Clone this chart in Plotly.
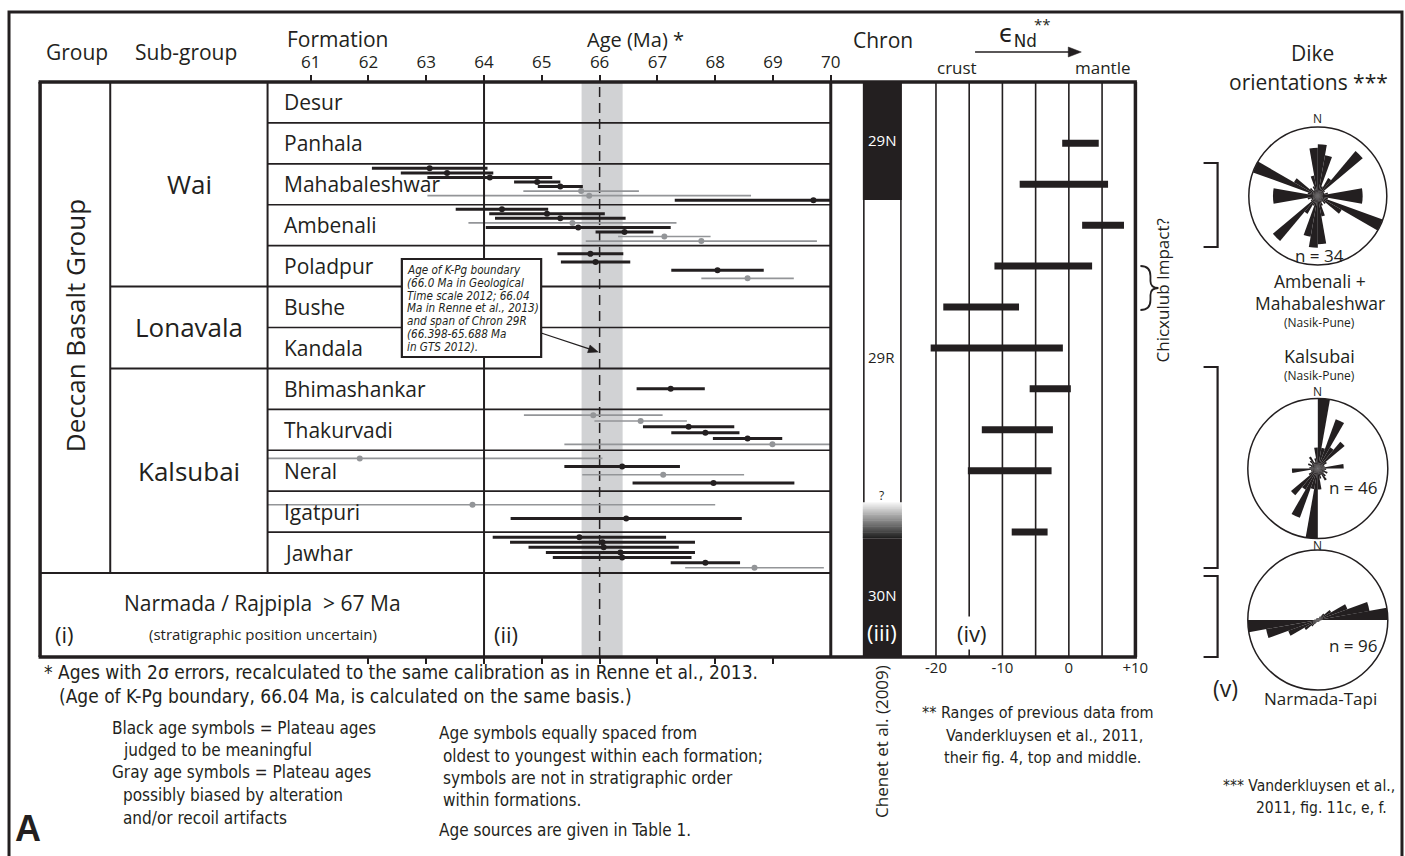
import plotly.graph_objects as go

W, H = 1405, 856          # design grid (pixels of the target picture)
FIG_W = 1421              # page width actually captured by the viewer
BLACK = "#231f20"
GRAY = "#939598"
FONT = "Open Sans"
NARROW = "Liberation Sans Narrow, DejaVu Sans Condensed, Open Sans"

# ---------------- data ----------------
FORMATIONS = ["Desur", "Panhala", "Mahabaleshwar", "Ambenali", "Poladpur", "Bushe", "Kandala",
              "Bhimashankar", "Thakurvadi", "Neral", "Igatpuri", "Jawhar"]
SUBGROUPS = ["Wai", "Lonavala", "Kalsubai"]
SUBGROUP_FIRST = [0, 5, 7]
GROUP = "Deccan Basalt Group"

AGE_TICKS_TOP = [61, 62, 63, 64, 65, 66, 67, 68, 69, 70]
AGE_TICKS_BOTTOM = [62, 63, 64, 65, 66, 67, 68, 69]
KPG_AGE = 66.0
CHRON29R = [65.688, 66.398]

# ages (Ma), 2-sigma errors, quality (b = black/meaningful, g = gray/possibly biased)
MAHA_AGE = [63.06, 63.36, 64.10, 64.92, 65.32, 65.68, 65.82, 69.70]
MAHA_ERR = [1.00, 0.80, 1.08, 0.40, 0.39, 1.00, 2.80, 2.40]
MAHA_Q = "bbbbbggb"
AMBE_AGE = [64.31, 65.09, 65.32, 65.53, 65.63, 66.43, 67.12, 67.76]
AMBE_ERR = [0.80, 1.00, 1.13, 1.80, 1.60, 0.50, 0.80, 2.00]
AMBE_Q = "bbbgbbgg"
POLA_AGE = [65.84, 65.93, 68.04, 68.56]
POLA_ERR = [0.57, 0.60, 0.80, 0.80]
POLA_Q = "bbbg"
BHIM_AGE = [67.23]
BHIM_ERR = [0.59]
BHIM_Q = "b"
THAK_AGE = [65.89, 66.71, 67.54, 67.83, 68.56, 68.99]
THAK_ERR = [1.20, 0.80, 0.79, 0.59, 0.60, 3.60]
THAK_Q = "ggbbbg"
NERA_AGE = [61.85, 66.39, 67.10, 67.97]
NERA_ERR = [4.20, 1.00, 1.40, 1.40]
NERA_Q = "gbgb"
IGAT_AGE = [63.80, 66.46]
IGAT_ERR = [4.20, 2.00]
IGAT_Q = "gb"
JAWH_AGE = [65.65, 66.05, 66.07, 66.36, 66.39, 67.83, 68.68]
JAWH_ERR = [1.50, 1.60, 1.30, 1.29, 1.20, 0.60, 1.20]
JAWH_Q = "bbbbbbg"

# eNd ranges
END_FORM = ["Panhala", "Mahabaleshwar", "Ambenali", "Poladpur", "Bushe", "Kandala",
            "Bhimashankar", "Thakurvadi", "Neral", "Igatpuri/Jawhar"]
END_LO = [-1.0, -7.4, 2.0, -11.2, -18.9, -20.8, -5.9, -13.1, -15.2, -8.6]
END_HI = [4.5, 5.9, 8.3, 3.5, -7.5, -0.9, 0.3, -2.4, -2.6, -3.2]
END_GRID = [-20, -15, -10, -5, 0, 5]
END_TICKS = [-20, -10, 0, 10]
END_TICKTEXT = ["-20", "-10", "0", "+10"]

# chron column (in formation-row units from top)
CHRON_NAMES = ["29N", "29R", "30N"]
CHRON_EDGES = [0.0, 2.885, 10.27, 11.15, 14.055]

# rose diagrams: strike bins (deg) and relative petal length
ROSE_BINS = [5, 15, 25, 35, 45, 55, 65, 75, 85, 95, 105, 115, 125, 135, 145, 155, 165, 175]
ROSE_AM = [0.75, 0.60, 0.15, 0.30, 0.85, 0.12, 0.10, 0.15, 0.65, 0.65, 0.15, 1.00, 0.40, 0.15, 0.10, 0.15, 0.30, 0.70]
ROSE_KA = [1.00, 0.30, 0.75, 0.35, 0.50, 0.15, 0.10, 0.10, 0.37, 0.12, 0.10, 0.15, 0.10, 0.15, 0.20, 0.10, 0.15, 0.30]
ROSE_NT = [0.03, 0.03, 0.03, 0.06, 0.12, 0.22, 0.45, 0.75, 1.00, 0.05, 0.03, 0.03, 0.03, 0.03, 0.03, 0.03, 0.03, 0.03]
ROSE_N = [34, 46, 96]

AGES = {
    "Mahabaleshwar": (MAHA_AGE, MAHA_ERR, MAHA_Q),
    "Ambenali": (AMBE_AGE, AMBE_ERR, AMBE_Q),
    "Poladpur": (POLA_AGE, POLA_ERR, POLA_Q),
    "Bhimashankar": (BHIM_AGE, BHIM_ERR, BHIM_Q),
    "Thakurvadi": (THAK_AGE, THAK_ERR, THAK_Q),
    "Neral": (NERA_AGE, NERA_ERR, NERA_Q),
    "Igatpuri": (IGAT_AGE, IGAT_ERR, IGAT_Q),
    "Jawhar": (JAWH_AGE, JAWH_ERR, JAWH_Q),
}

# ---------------- layout helpers (design pixel -> paper fraction) ----------------
def px(x):
    return x / W


def py(y):
    return 1 - y / H


TOP, BOT, ROWBOT = 82, 657, 573
NROWS = 14.055
ROWH = (ROWBOT - TOP) / 12

fig = go.Figure()
shapes = []
ann = []


def line(x0, y0, x1, y1, w=1.5, color=BLACK, layer="above"):
    shapes.append(dict(type="line", xref="paper", yref="paper", x0=px(x0), y0=py(y0), x1=px(x1), y1=py(y1),
                       line=dict(color=color, width=w), layer=layer))


def arrow(x0, y0, x1, y1, w=1.5, head=11, half=4.5):
    dx, dy = x1 - x0, y1 - y0
    L = (dx * dx + dy * dy) ** 0.5
    ux, uy = dx / L, dy / L
    bx, by = x1 - head * ux, y1 - head * uy
    line(x0, y0, bx + 2 * ux, by + 2 * uy, w=w)
    p1 = (bx - half * uy, by + half * ux)
    p2 = (bx + half * uy, by - half * ux)
    shapes.append(dict(type="path", xref="paper", yref="paper",
                       path=f"M {px(x1)},{py(y1)} L {px(p1[0])},{py(p1[1])} L {px(p2[0])},{py(p2[1])} Z",
                       fillcolor=BLACK, line=dict(color=BLACK, width=0.5)))


def txt(x, y, s, size, anchor="center", color=BLACK, family=FONT, angle=0, **kw):
    ann.append(dict(x=px(x), y=py(y), xref="paper", yref="paper", text=s, showarrow=False,
                    font=dict(size=size, color=color, family=family), xanchor=anchor,
                    yanchor="middle", textangle=angle, **kw))


# ---------------- age error bars ----------------
for qual, col, thick in (("g", GRAY, 1.6), ("b", BLACK, 3)):
    xs, ys, es = [], [], []
    for f, (ages, errs, qs) in AGES.items():
        i = FORMATIONS.index(f)
        n = len(ages)
        for k, (a, e, q) in enumerate(zip(ages, errs, qs)):
            if q == qual:
                xs.append(a)
                ys.append(i + (k + 1) / (n + 1))
                es.append(e)
    fig.add_trace(go.Scatter(x=xs, y=ys, mode="markers", xaxis="x", yaxis="y",
                             marker=dict(size=6, color=col),
                             error_x=dict(type="data", array=es, symmetric=True, width=0,
                                          thickness=thick, color=col),
                             showlegend=False, hoverinfo="skip"))
fig.add_trace(go.Scatter(x=[KPG_AGE], y=[0], xaxis="x2", yaxis="y", mode="markers",
                         marker=dict(opacity=0), showlegend=False, hoverinfo="skip"))

# ---------------- eNd bars ----------------
ex, ey = [], []
for name, lo, hi in zip(END_FORM, END_LO, END_HI):
    if "/" in name:
        yy = FORMATIONS.index(name.split("/")[1])
    else:
        yy = FORMATIONS.index(name) + 0.5
    ex += [lo, hi, None]
    ey += [yy, yy, None]
fig.add_trace(go.Scatter(x=ex, y=ey, xaxis="x3", yaxis="y", mode="lines",
                         line=dict(color=BLACK, width=7), showlegend=False, hoverinfo="skip"))

# ---------------- rose diagrams ----------------
for vals, pname in ((ROSE_AM, "polar"), (ROSE_KA, "polar2"), (ROSE_NT, "polar3")):
    th = ROSE_BINS + [b + 180 for b in ROSE_BINS]
    rr = vals + vals
    fig.add_trace(go.Barpolar(theta=th, r=rr, width=[10] * len(th), subplot=pname,
                              marker=dict(color=BLACK, line=dict(width=0)),
                              showlegend=False, hoverinfo="skip"))

polar_common = dict(
    bgcolor="white",
    radialaxis=dict(visible=False, range=[0, 1]),
    angularaxis=dict(rotation=90, direction="clockwise", showticklabels=False, ticks="",
                     showgrid=False, showline=True, linecolor=BLACK, linewidth=1.5),
    bargap=0,
)
rose_centres = [(1315, 196, 69), (1315, 468.5, 70), (1315, 620, 70)]
polars = {}
for i, (cx, cy, r) in enumerate(rose_centres):
    key = "polar" if i == 0 else f"polar{i + 1}"
    d = dict(polar_common)
    d["domain"] = dict(x=[px(cx - r), px(cx + r)], y=[py(cy + r), py(cy - r)])
    polars[key] = d

# ---------------- age panel decorations ----------------
shapes.append(dict(type="rect", xref="x", yref="paper", x0=CHRON29R[0], x1=CHRON29R[1],
                   y0=py(BOT), y1=py(TOP), fillcolor="#d1d2d4", line=dict(width=0), layer="below"))
shapes.append(dict(type="line", xref="x", yref="paper", x0=KPG_AGE, x1=KPG_AGE,
                   y0=py(BOT), y1=py(TOP), line=dict(color=BLACK, width=1.5, dash="10px,6px"),
                   layer="below"))

for i in range(1, 12):
    yy = TOP + i * ROWH
    sub = i in SUBGROUP_FIRST[1:]
    line(110 if sub else 267, yy, 829, yy, w=2 if sub else 1.6, layer="below")
line(40, ROWBOT, 829, ROWBOT, w=2.2)
line(110, TOP, 110, ROWBOT, w=2)
line(267, TOP, 267, ROWBOT, w=2)
line(483, TOP, 483, BOT, w=2)
line(829, TOP, 829, BOT, w=3)
line(38.5, TOP, 1134.5, TOP, w=3.5)
line(38.5, BOT, 1134.5, BOT, w=3.5)
line(40, TOP, 40, BOT, w=3.5)
line(1133, TOP, 1133, BOT, w=3.5)
shapes.append(dict(type="rect", xref="paper", yref="paper", x0=px(9), x1=px(1399), y0=py(900), y1=py(12),
                   line=dict(color=BLACK, width=3), fillcolor="rgba(0,0,0,0)", layer="above"))

for g in END_GRID:
    shapes.append(dict(type="line", xref="x3", yref="paper", x0=g, x1=g, y0=py(BOT), y1=py(TOP),
                       line=dict(color=BLACK, width=1.6), layer="below"))

# chron column
CX0, CX1 = 861, 900
chron_fill = [BLACK, "white", None, BLACK]
for k in range(4):
    y0, y1 = CHRON_EDGES[k], CHRON_EDGES[k + 1]
    if chron_fill[k] is None:
        steps = 30
        for s in range(steps):
            a = y0 + (y1 - y0) * s / steps
            b = y0 + (y1 - y0) * (s + 1.6) / steps
            g = int(250 - 220 * (s + 0.5) / steps)
            shapes.append(dict(type="rect", xref="paper", yref="y", x0=px(CX0), x1=px(CX1), y0=a, y1=min(b, y1),
                               fillcolor=f"rgb({g},{g},{g})", line=dict(width=0), layer="above"))
    else:
        shapes.append(dict(type="rect", xref="paper", yref="y", x0=px(CX0), x1=px(CX1), y0=y0, y1=y1,
                           fillcolor=chron_fill[k], line=dict(width=0), layer="above"))
for xx in (CX0 + 1, CX1 - 1):
    shapes.append(dict(type="line", xref="paper", yref="y", x0=px(xx), x1=px(xx),
                       y0=CHRON_EDGES[1], y1=CHRON_EDGES[2], line=dict(color=BLACK, width=1.6)))

# K-Pg annotation box
shapes.append(dict(type="rect", xref="paper", yref="paper", x0=px(401), x1=px(540), y0=py(357), y1=py(259),
                   fillcolor="white", line=dict(color=BLACK, width=2.2), layer="above"))
box_lines = ["Age of K-Pg boundary", "(66.0 Ma in Geological", "Time scale 2012; 66.04",
             "Ma in Renne et al., 2013)", "and span of Chron 29R", "(66.398-65.688 Ma", "in GTS 2012)."]
for j, s in enumerate(box_lines):
    txt(404, 270 + j * 12.8, "<i>" + s + "</i>", 11.6, anchor="left", family=NARROW)
arrow(540, 333, 597, 352, w=1.3, head=10, half=4)

# brackets and brace
for (ya, yb) in ((163, 247), (367, 568), (576, 657)):
    shapes.append(dict(type="path", xref="paper", yref="paper",
                       path=f"M {px(1201)},{py(ya)} L {px(1215)},{py(ya)} L {px(1215)},{py(yb)} L {px(1201)},{py(yb)}",
                       line=dict(color=BLACK, width=2.2)))
bx = [1138, 1148, 1156]
bp = (f"M {px(bx[0])},{py(266)} Q {px(bx[1])},{py(266)} {px(bx[1])},{py(276)} L {px(bx[1])},{py(281)} "
      f"Q {px(bx[1])},{py(288)} {px(bx[2])},{py(288)} Q {px(bx[1])},{py(288)} {px(bx[1])},{py(295)} "
      f"L {px(bx[1])},{py(300)} Q {px(bx[1])},{py(310)} {px(bx[0])},{py(310)}")
shapes.append(dict(type="path", xref="paper", yref="paper", path=bp, line=dict(color=BLACK, width=1.8)))

# ---------------- texts ----------------
txt(77, 52, "Group", 21)
txt(186, 52, "Sub-group", 21)
txt(337, 39, "Formation", 21)
txt(634, 39, "Age (Ma) *", 20)
txt(881, 40, "Chron", 21)
txt(1016, 36, "ϵ<sub>Nd</sub>", 24, family="DejaVu Sans")
txt(1040, 24, "**", 15)
arrow(973, 52, 1079, 52, w=1.5, head=13, half=5)
txt(955, 68, "crust", 17)
txt(1101, 68, "mantle", 17)
txt(1310, 53, "Dike", 21)
txt(1306, 82, "orientations ***", 21)

txt(75, 326, GROUP, 26, angle=-90)
for g, first, nxt in zip(SUBGROUPS, SUBGROUP_FIRST, SUBGROUP_FIRST[1:] + [12]):
    txt(189, TOP + (first + nxt) / 2 * ROWH, g, 26)
for i, f in enumerate(FORMATIONS):
    txt(281, TOP + (i + 0.5) * ROWH, f, 21, anchor="left")

txt(262, 603, "Narmada / Rajpipla&nbsp;&nbsp;> 67 Ma", 21)
txt(262, 634, "(stratigraphic position uncertain)", 15)
txt(64, 634, "(i)", 22)
txt(505, 634, "(ii)", 22)
txt(880, 140, "29N", 15, color="white")
txt(880, 357, "29R", 15)
txt(880, 495, "?", 12)
txt(880, 595, "30N", 15, color="white")
txt(880, 632, "(iii)", 22, color="white")
txt(970, 633, "(iv)", 22, bgcolor="white")

txt(1161, 290, "Chicxulub Impact?", 17, angle=-90)
txt(1315, 119, "N", 12)
txt(1317, 255, "n = 34", 17)
txt(1317, 281, "Ambenali +", 17.5)
txt(1317, 303, "Mahabaleshwar", 17.5)
txt(1317, 323, "(Nasik-Pune)", 12)
txt(1317, 356, "Kalsubai", 18)
txt(1317, 375, "(Nasik-Pune)", 12)
txt(1315, 391, "N", 12)
txt(1350, 488, "n = 46", 17)
txt(1315, 545, "N", 12)
txt(1350, 645, "n = 96", 17)
txt(1223, 688, "(v)", 23)
txt(1318, 698, "Narmada-Tapi", 17)

txt(879, 741, "Chenet et al. (2009)", 17, angle=-90)

BT = 19
BS = 17
txt(42, 672, "* Ages with 2σ errors, recalculated to the same calibration as in Renne et al., 2013.", BT, anchor="left", family=NARROW)
txt(57, 696, "(Age of K-Pg boundary, 66.04 Ma, is calculated on the same basis.)", BT, anchor="left", family=NARROW)
txt(110, 728, "Black age symbols = Plateau ages", BS, anchor="left", family=NARROW)
txt(121, 750, "judged to be meaningful", BS, anchor="left", family=NARROW)
txt(110, 772, "Gray age symbols = Plateau ages", BS, anchor="left", family=NARROW)
txt(121, 795, "possibly biased by alteration", BS, anchor="left", family=NARROW)
txt(121, 818, "and/or recoil artifacts", BS, anchor="left", family=NARROW)
txt(436, 733, "Age symbols equally spaced from", BS, anchor="left", family=NARROW)
txt(440, 756, "oldest to youngest within each formation;", BS, anchor="left", family=NARROW)
txt(440, 778, "symbols are not in stratigraphic order", BS, anchor="left", family=NARROW)
txt(440, 800, "within formations.", BS, anchor="left", family=NARROW)
txt(436, 830, "Age sources are given in Table 1.", BS, anchor="left", family=NARROW)
txt(28, 828, "<b>A</b>", 36, family="Liberation Sans, Arial")
txt(1036, 712, "** Ranges of previous data from", 16, family=NARROW)
txt(1042, 735, "Vanderkluysen et al., 2011,", 16, family=NARROW)
txt(1040, 757, "their fig. 4, top and middle.", 16, family=NARROW)
txt(1394, 786, "*** Vanderkluysen et al.,", 15.5, anchor="right", family=NARROW)
txt(1386, 808, "2011, fig. 11c, e, f.", 15.5, anchor="right", family=NARROW)

# ---------------- axes ----------------
age_range = [64 - (483 - 267) / 57.67, 64 + (829 - 483) / 57.67]
end_scale = (1133 - 934) / 30.0
end_range = [-20 - (934 - 900) / end_scale, 10.02]

fig.update_layout(
    width=FIG_W, height=H, autosize=False,
    margin=dict(l=0, r=0, t=0, b=0),
    paper_bgcolor="white", plot_bgcolor="rgba(0,0,0,0)",
    showlegend=False,
    xaxis=dict(domain=[px(267), px(829)], range=age_range, side="top", anchor="y",
               tickvals=AGE_TICKS_TOP, ticks="outside", ticklen=6, tickwidth=1.5, tickcolor=BLACK,
               showgrid=False, zeroline=False, showline=False,
               tickfont=dict(size=17, family=FONT, color=BLACK)),
    xaxis2=dict(domain=[px(267), px(829)], range=age_range, side="bottom", anchor="y", overlaying="x",
                tickvals=AGE_TICKS_BOTTOM, ticks="outside", ticklen=6, tickwidth=1.5, tickcolor=BLACK,
                showticklabels=False, showgrid=False, zeroline=False, showline=False),
    xaxis3=dict(domain=[px(900), px(1133)], range=end_range, side="bottom", anchor="y",
                tickvals=END_TICKS, ticktext=END_TICKTEXT, ticks="",
                showgrid=False, zeroline=False, showline=False,
                tickfont=dict(size=15, family=FONT, color=BLACK)),
    yaxis=dict(domain=[py(BOT), py(TOP)], range=[NROWS, 0], visible=False, anchor="x"),
    shapes=shapes,
    annotations=ann,
    **polars,
)

post = "document.body.style.margin='0px';document.body.style.overflow='hidden';"
fig.write_html("out.html", config={"responsive": False, "displayModeBar": False}, post_script=post)
